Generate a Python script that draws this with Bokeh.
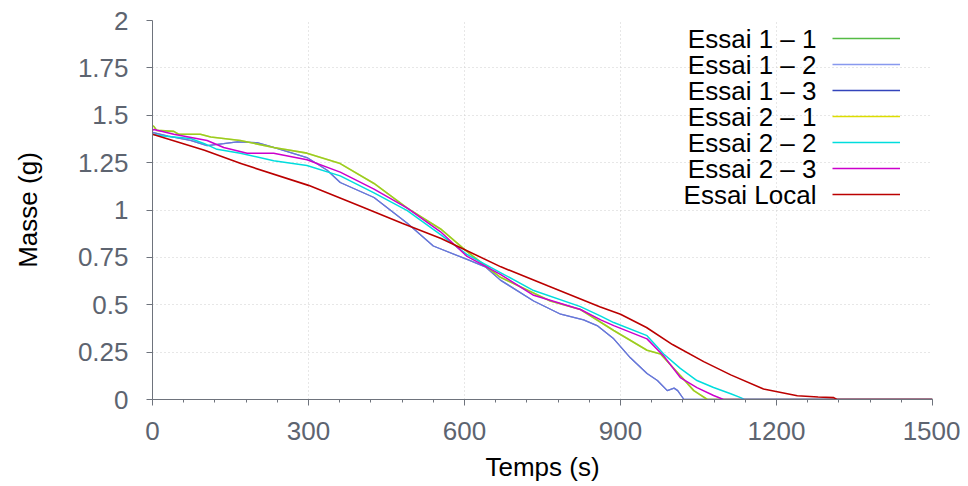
from bokeh.plotting import figure
from bokeh.models import (FixedTicker, CustomJSTickFormatter, Label, Legend, LegendItem, Range1d)
from bokeh.core.properties import value
from bokeh.embed import file_html
from bokeh.resources import INLINE

# ---------------- data ----------------
series_names = ["Essai 1 – 1", "Essai 1 – 2", "Essai 1 – 3", "Essai 2 – 1",
                "Essai 2 – 2", "Essai 2 – 3", "Essai Local"]

t_21 = [0, 3, 8, 41, 50, 92, 112, 169, 233, 297, 361, 426, 490, 554, 605, 669, 765,
        823, 887, 951, 977, 1015, 1041, 1067, 1500]
m_21 = [1.445, 1.44, 1.42, 1.415, 1.40, 1.40, 1.385, 1.367, 1.33, 1.30, 1.245, 1.14,
        1.01, 0.90, 0.78, 0.645, 0.52, 0.475, 0.364, 0.26, 0.24, 0.127, 0.047, 0.0, 0.0]
t_11 = t_21
m_11 = m_21

t_12 = [0, 30, 73, 105, 137, 163, 201, 233, 297, 336, 361, 426, 490, 540, 605, 640,
        669, 733, 785, 829, 855, 887, 919, 951, 971, 990, 1003, 1010, 1022, 1500]
m_12 = [1.41, 1.39, 1.367, 1.34, 1.35, 1.36, 1.355, 1.33, 1.277, 1.21, 1.145, 1.066,
        0.93, 0.81, 0.739, 0.70, 0.63, 0.52, 0.45, 0.42, 0.39, 0.32, 0.22, 0.137, 0.10,
        0.047, 0.06, 0.047, 0.0, 0.0]
t_13 = t_12
m_13 = m_12

t_22 = [0, 20, 73, 100, 124, 169, 233, 297, 361, 426, 490, 554, 605, 669, 733, 823,
        862, 887, 951, 983, 1015, 1047, 1079, 1112, 1131, 1138, 1500]
m_22 = [1.40, 1.39, 1.377, 1.35, 1.32, 1.30, 1.26, 1.235, 1.18, 1.09, 0.997, 0.87,
        0.765, 0.67, 0.575, 0.49, 0.44, 0.406, 0.337, 0.24, 0.164, 0.10, 0.063, 0.03,
        0.01, 0.0, 0.0]

t_23 = [0, 3, 41, 105, 137, 182, 233, 297, 361, 426, 490, 554, 605, 669, 733, 823,
        862, 887, 951, 983, 1015, 1047, 1079, 1098, 1500]
m_23 = [1.42, 1.425, 1.40, 1.367, 1.33, 1.30, 1.30, 1.265, 1.20, 1.11, 1.01, 0.885,
        0.755, 0.66, 0.55, 0.475, 0.42, 0.39, 0.32, 0.23, 0.116, 0.063, 0.021, 0.0, 0.0]

t_loc = [0, 100, 170, 300, 400, 480, 555, 670, 760, 860, 900, 950, 1000, 1060, 1112,
         1175, 1240, 1280, 1310, 1316, 1500]
m_loc = [1.40, 1.315, 1.245, 1.13, 1.02, 0.93, 0.85, 0.70, 0.60, 0.49, 0.45, 0.38,
         0.29, 0.20, 0.13, 0.055, 0.02, 0.013, 0.01, 0.0, 0.0]

x_ticks = [0, 300, 600, 900, 1200, 1500]
x_minor = [60 * i for i in range(26)]
y_ticks = [0, 0.25, 0.5, 0.75, 1, 1.25, 1.5, 1.75, 2]

colors = {
    "Essai 1 – 1": "#55bb44",
    "Essai 1 – 2": "#8899ee",
    "Essai 1 – 3": "#3344bb",
    "Essai 2 – 1": "#dddd00",
    "Essai 2 – 2": "#00dddd",
    "Essai 2 – 3": "#cc00cc",
    "Essai Local": "#bb0000",
}
series_data = {
    "Essai 1 – 1": (t_11, m_11), "Essai 1 – 2": (t_12, m_12), "Essai 1 – 3": (t_13, m_13),
    "Essai 2 – 1": (t_21, m_21), "Essai 2 – 2": (t_22, m_22), "Essai 2 – 3": (t_23, m_23),
    "Essai Local": (t_loc, m_loc),
}

FONT = "Liberation Sans"
FS = "26px"
AXIS_GRAY = "#6e737c"
TICK_TXT = "#5d6470"

W, H = 960, 485
LEFT, RIGHT, TOP, BOTTOM = 152, 28, 20, 86

p = figure(width=W, height=H, output_backend="svg", toolbar_location=None,
           x_range=Range1d(0, 1500), y_range=Range1d(0, 2),
           min_border_left=LEFT, min_border_right=RIGHT, min_border_top=TOP,
           min_border_bottom=BOTTOM)
p.outline_line_color = None
p.background_fill_color = "white"

# grids
for g in (p.xgrid, p.ygrid):
    g.grid_line_color = "#cfcfcf"
    g.grid_line_dash = "1 3"
    g.grid_line_width = 1
p.xgrid.ticker = FixedTicker(ticks=x_ticks)
p.ygrid.ticker = FixedTicker(ticks=y_ticks)

# axes
p.xaxis.ticker = FixedTicker(ticks=x_ticks, minor_ticks=x_minor)
p.yaxis.ticker = FixedTicker(ticks=y_ticks, minor_ticks=[])
p.yaxis.formatter = CustomJSTickFormatter(code="return tick.toString();")
p.xaxis.formatter = CustomJSTickFormatter(code="return tick.toString();")
for ax in (p.xaxis, p.yaxis):
    ax.axis_line_color = AXIS_GRAY
    ax.major_tick_line_color = AXIS_GRAY
    ax.minor_tick_line_color = AXIS_GRAY
    ax.major_tick_out = 6
    ax.major_tick_in = 0
    ax.minor_tick_out = 3
    ax.minor_tick_in = 0
    ax.major_label_text_font = FONT
    ax.major_label_text_font_size = FS
    ax.major_label_text_color = TICK_TXT
    ax.major_label_text_line_height = 1.0
    ax.axis_label_text_font = FONT
    ax.axis_label_text_font_size = FS
    ax.axis_label_text_font_style = "normal"
    ax.axis_label_text_color = "black"
    ax.axis_label_text_line_height = 1.0
p.xaxis.axis_label = "Temps (s)"
p.yaxis.axis_label = "Masse (g)"
p.yaxis.major_label_standoff = 18
p.xaxis.major_label_standoff = 16
p.xaxis.axis_label_standoff = 9
p.yaxis.axis_label_standoff = 32

frame_w = W - LEFT - RIGHT
frame_h = H - TOP - BOTTOM

# lines (drawn in order)
r13 = p.line(t_13, m_13, line_color=colors["Essai 1 – 3"], line_width=1.3)
r12 = p.line(t_12, m_12, line_color=colors["Essai 1 – 2"], line_width=1.3, line_alpha=0.6)
r21 = p.line(t_21, m_21, line_color=colors["Essai 2 – 1"], line_width=1.6)
r11 = p.line(t_11, m_11, line_color=colors["Essai 1 – 1"], line_width=1.6, line_alpha=0.5)
r22 = p.line(t_22, m_22, line_color=colors["Essai 2 – 2"], line_width=1.5)
r23 = p.line(t_23, m_23, line_color=colors["Essai 2 – 3"], line_width=1.5)
rloc = p.line(t_loc, m_loc, line_color=colors["Essai Local"], line_width=1.6)

# legend: line samples on the right (single-point renderers, invisible in plot),
# names drawn as labels on the left
sample_renderers = []
for name in series_names:
    tt, mm = series_data[name]
    sr = p.line([tt[-1]], [mm[-1]], line_color=colors[name], line_width=1.5)
    sample_renderers.append(sr)
legend = Legend(items=[LegendItem(label=value(" "), renderers=[sr])
                       for sr in sample_renderers],
                location=(680, 192), orientation="vertical",
                glyph_width=68, glyph_height=26, label_height=26, label_width=1,
                label_standoff=0, spacing=0, padding=0, margin=0,
                border_line_color=None, background_fill_alpha=0,
                label_text_alpha=0, label_text_font_size="2px")
p.add_layout(legend, "center")

for i, name in enumerate(series_names):
    y_screen = frame_h - (18 + 26 * i)
    p.add_layout(Label(x=664, y=y_screen, x_units="screen", y_units="screen",
                       text=name, text_align="right", text_baseline="middle",
                       text_font=FONT, text_font_size=FS, text_color="black"))

open("out.html", "w").write(file_html(p, INLINE))
